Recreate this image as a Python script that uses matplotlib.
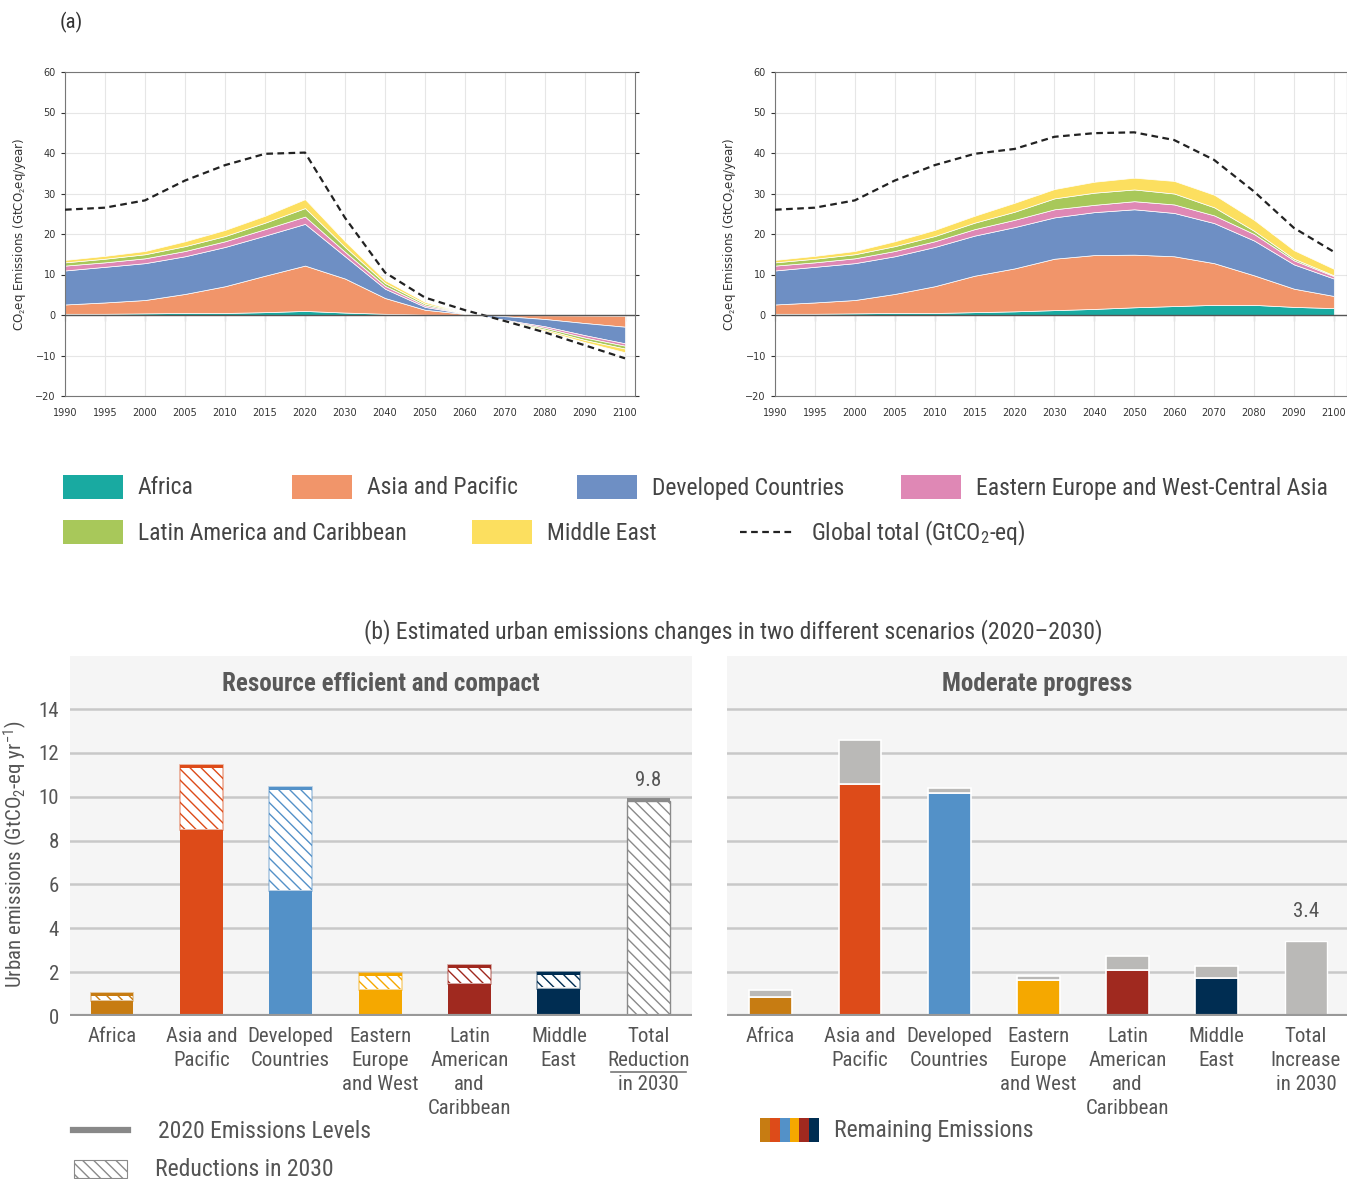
import matplotlib
matplotlib.use('Agg')
import matplotlib.pyplot as plt
from matplotlib.patches import Rectangle
from matplotlib.lines import Line2D
import numpy as np

# ---------------- data ----------------
years = ['1990', '1995', '2000', '2005', '2010', '2015', '2020', '2030',
         '2040', '2050', '2060', '2070', '2080', '2090', '2100']
regions_a = ['Africa', 'Asia and Pacific', 'Developed Countries',
             'Eastern Europe and West-Central Asia', 'Latin America and Caribbean', 'Middle East']

# left scenario (per-region values, GtCO2-eq/yr)
l_africa = [0.3, 0.3, 0.4, 0.5, 0.5, 0.7, 1.0, 0.6, 0.3, 0.1, 0.05, -0.05, -0.1, -0.15, -0.2]
l_asia = [2.3, 2.8, 3.3, 4.7, 6.6, 9.0, 11.2, 8.4, 3.9, 1.2, 0.2, -0.25, -0.9, -1.85, -2.7]
l_dev = [8.4, 8.8, 9.1, 9.3, 9.7, 9.9, 10.3, 5.5, 2.3, 0.7, 0.1, -0.9, -1.8, -3.0, -4.1]
l_eewca = [1.2, 1.1, 1.2, 1.3, 1.4, 1.6, 1.8, 1.1, 0.7, 0.4, 0.05, -0.15, -0.4, -0.6, -0.6]
l_lac = [0.8, 0.9, 1.0, 1.2, 1.3, 1.6, 2.1, 1.2, 0.7, 0.4, 0.05, -0.1, -0.4, -0.6, -0.7]
l_me = [0.6, 0.7, 0.8, 1.2, 1.5, 1.7, 2.2, 1.4, 0.7, 0.4, 0.05, -0.1, -0.3, -0.5, -0.9]
l_global = [26.0, 26.5, 28.3, 33.2, 37.0, 39.8, 40.1, 24.0, 10.5, 4.3, 1.2, -1.5, -4.3, -7.5, -10.7]

# right scenario
r_africa = [0.3, 0.3, 0.4, 0.5, 0.5, 0.7, 0.9, 1.2, 1.5, 1.9, 2.2, 2.5, 2.5, 2.0, 1.7]
r_asia = [2.3, 2.8, 3.3, 4.7, 6.6, 9.0, 10.6, 12.7, 13.3, 13.0, 12.3, 10.3, 7.3, 4.5, 3.0]
r_dev = [8.4, 8.8, 9.1, 9.3, 9.7, 9.9, 10.2, 10.2, 10.6, 11.2, 10.7, 9.9, 8.6, 6.0, 4.3]
r_eewca = [1.2, 1.1, 1.2, 1.3, 1.4, 1.6, 1.8, 2.0, 1.8, 2.0, 2.1, 1.9, 1.6, 1.0, 0.6]
r_lac = [0.8, 0.9, 1.0, 1.2, 1.3, 1.6, 2.0, 2.7, 3.0, 2.9, 2.7, 2.0, 0.8, 0.4, 0.2]
r_me = [0.6, 0.7, 0.8, 1.2, 1.5, 1.7, 2.2, 2.3, 2.7, 2.9, 3.1, 3.1, 2.7, 2.1, 1.6]
r_global = [26.0, 26.5, 28.3, 33.2, 37.0, 39.8, 41.0, 44.0, 44.9, 45.1, 43.2, 38.3, 30.5, 21.5, 15.6]

# panel (b)
cats_left = ['Africa', 'Asia and\nPacific', 'Developed\nCountries', 'Eastern\nEurope\nand West',
             'Latin\nAmerican\nand\nCaribbean', 'Middle\nEast', 'Total\nReduction\nin 2030']
cats_right = ['Africa', 'Asia and\nPacific', 'Developed\nCountries', 'Eastern\nEurope\nand West',
              'Latin\nAmerican\nand\nCaribbean', 'Middle\nEast', 'Total\nIncrease\nin 2030']
rec_level2020 = [1.05, 11.45, 10.45, 1.97, 2.33, 2.0]
rec_remaining = [0.7, 8.5, 5.7, 1.2, 1.45, 1.25]
rec_total_reduction = 9.8
mod_level2020 = [0.85, 10.6, 10.15, 1.65, 2.1, 1.75]
mod_increase = [0.35, 2.0, 0.23, 0.18, 0.64, 0.51]
mod_total_increase = 3.4
yticks_b = [0, 2, 4, 6, 8, 10, 12, 14]

# ---------------- style ----------------
W, H = 1347, 1179
COND = ['Roboto Condensed', 'Asap Condensed', 'Archivo Narrow', 'DejaVu Sans']
plt.rcParams['font.family'] = COND
plt.rcParams['mathtext.fontset'] = 'custom'
plt.rcParams['mathtext.rm'] = 'Roboto Condensed'
plt.rcParams['mathtext.it'] = 'Roboto Condensed'
plt.rcParams['hatch.linewidth'] = 1.0

cols_a = ['#19aaa1', '#f1956a', '#6e8fc4', '#df88b5', '#a8c85a', '#fcdf5f']
cols_b = ['#c77c12', '#dd4b19', '#5391c8', '#f5a800', '#a0291f', '#002d52']
grey_b = '#bab9b7'
TXT = '#555555'

fig = plt.figure(figsize=(W / 100, H / 100), dpi=100)


def rect(x0, y0, x1, y1):
    return [x0 / W, 1 - y1 / H, (x1 - x0) / W, (y1 - y0) / H]


def top_panel(r, series, glob, xmax):
    ax = fig.add_axes(r)
    x = np.arange(len(years))
    ax.stackplot(x, *series, colors=cols_a, edgecolor='white', linewidth=0.5, zorder=2)
    ax.plot(x, glob, color='#222222', linestyle=(0, (3, 2)), lw=1.6, zorder=3)
    ax.set_xlim(0, xmax)
    ax.set_ylim(-20, 60)
    ax.set_yticks(range(-20, 61, 10))
    ax.set_xticks(x)
    ax.set_xticklabels(years, family=['DejaVu Sans'])
    for t in ax.get_yticklabels():
        t.set_family(['DejaVu Sans'])
    ax.tick_params(labelsize=7, colors='#333333', length=3, width=0.8, right=True, labelright=False)
    ax.tick_params(axis='x', length=0, pad=9)
    ax.grid(True, color='#e6e6e6', lw=0.8, zorder=0)
    for s in ax.spines.values():
        s.set_color('#777777')
        s.set_linewidth(0.8)
    ax.axhline(0, color='#555555', lw=1.0, zorder=4)
    sec = ax.secondary_xaxis(0.25)
    sec.set_xticks(x)
    sec.set_xticklabels([])
    sec.tick_params(length=4, width=0.8, color='#555555', direction='out')
    sec.spines['bottom'].set_visible(False)
    ax.set_ylabel('CO$_{2}$eq Emissions (GtCO$_{2}$eq/year)', fontsize=8.5,
                  color='#333333', family=['DejaVu Sans'])
    ax.yaxis.set_label_coords(-37 / (r[2] * W), 0.5)
    return ax


axl = top_panel(rect(65, 72, 635, 396), [l_africa, l_asia, l_dev, l_eewca, l_lac, l_me], l_global, 14.25)
axr = top_panel(rect(775, 72, 1347, 396), [r_africa, r_asia, r_dev, r_eewca, r_lac, r_me], r_global, 14.33)

# overlay axes in pixel coordinates
ov = fig.add_axes([0, 0, 1, 1], zorder=10)
ov.set_xlim(0, W)
ov.set_ylim(H, 0)
ov.axis('off')
ov.patch.set_alpha(0)

ov.text(60, 22, '(a)', fontsize=15, color='#333333', va='center', ha='left')

# top legend
leg_items = [(63, 487, 0), (292, 487, 1), (577, 487, 2), (901, 487, 3), (63, 532, 4), (472, 532, 5)]
for (x0, yc, i) in leg_items:
    ov.add_patch(Rectangle((x0, yc - 12), 60, 24, facecolor=cols_a[i], edgecolor='none'))
    ov.text(x0 + 75, yc + 1, regions_a[i], fontsize=17, color='#444444', va='center', ha='left')
ov.add_line(Line2D([740, 795], [532, 532], color='#222222', lw=1.6, linestyle=(0, (3, 2))))
ov.text(811, 533, 'Global total (GtCO$_{2}$-eq)', fontsize=17, color='#444444', va='center', ha='left')

# panel b title
ov.text(733, 632, '(b) Estimated urban emissions changes in two different scenarios (2020\u20132030)',
        fontsize=17, color='#444444', va='center', ha='center')


def bottom_panel(r, xlim, cats, header):
    ax = fig.add_axes(r)
    ax.set_facecolor('#f5f5f5')
    ax.set_xlim(*xlim)
    ax.set_ylim(0, 16.42)
    for s in ax.spines.values():
        s.set_visible(False)
    for yv in yticks_b[1:]:
        ax.axhline(yv, color='#c8c8c8', lw=1.8, zorder=0)
    ax.axhline(0, color='#999999', lw=3, zorder=5)
    ax.set_xticks(range(len(cats)))
    ax.set_xticklabels(cats, fontsize=15, color=TXT, va='top', linespacing=1.33)
    ax.tick_params(axis='x', length=0, pad=8)
    ax.text(np.mean(xlim), 15.15, header, fontsize=18, fontweight='bold', color='#595959',
            ha='center', va='center')
    return ax


bw = 0.48
axb1 = bottom_panel(rect(70, 656, 692, 1016), (-0.47, 6.49), cats_left, 'Resource efficient and compact')
axb1.set_yticks(yticks_b)
axb1.set_yticklabels([str(v) for v in yticks_b], fontsize=15, color=TXT)
axb1.tick_params(axis='y', length=0, pad=8)
axb1.set_ylabel('Urban emissions (GtCO$_{2}$-eq yr$^{-1}$)', fontsize=15, color=TXT)
axb1.yaxis.set_label_coords(-41 / 622, 0.45)

strip = 0.13
for i in range(6):
    c = cols_b[i]
    rem = rec_remaining[i]
    lvl = rec_level2020[i]
    axb1.bar(i, rem, width=bw, color=c, edgecolor='none', zorder=2)
    axb1.bar(i, lvl - strip - rem - 0.05, bottom=rem + 0.05, width=bw, facecolor='white',
             edgecolor=c, hatch='\\\\\\', linewidth=0, zorder=2)
    axb1.bar(i, lvl - rem, bottom=rem, width=bw, facecolor='none', edgecolor=c, alpha=0.45,
             linewidth=1.2, zorder=3)
    axb1.bar(i, strip, bottom=lvl - strip, width=bw, color=c, edgecolor='none', zorder=3)
axb1.bar(6, rec_total_reduction, width=bw, facecolor='white', edgecolor='#8a8a8a',
         hatch='\\\\\\', linewidth=1.0, zorder=2)
axb1.bar(6, strip, bottom=rec_total_reduction, width=bw, color='#8a8a8a', edgecolor='none', zorder=3)
axb1.text(6, rec_total_reduction + 0.95, f'{rec_total_reduction:.1f}', fontsize=15, color=TXT,
          ha='center', va='center')

axb2 = bottom_panel(rect(727, 656, 1347, 1016), (-0.49, 6.46), cats_right, 'Moderate progress')
axb2.set_yticks([])
for i in range(6):
    axb2.bar(i, mod_level2020[i], width=bw, color=cols_b[i], edgecolor='white', linewidth=1.2, zorder=2)
    axb2.bar(i, mod_increase[i], bottom=mod_level2020[i], width=bw, color=grey_b, edgecolor='white',
             linewidth=1.2, zorder=2)
axb2.bar(6, mod_total_increase, width=bw, color=grey_b, edgecolor='white', linewidth=1.0, zorder=2)
axb2.text(6, mod_total_increase + 1.35, f'{mod_total_increase:.1f}', fontsize=15, color=TXT,
          ha='center', va='center')

# underline for "Reduction"
ov.add_line(Line2D([611, 686], [1072, 1072], color='#777777', lw=1.2))

# bottom legend
ov.add_line(Line2D([73, 128], [1130, 1130], color='#888888', lw=4.5))
ov.text(158, 1131, '2020 Emissions Levels', fontsize=17, color=TXT, va='center', ha='left')
ov.add_patch(Rectangle((74, 1160), 53, 18, facecolor='white', edgecolor='#8a8a8a', hatch='\\\\\\', lw=0.8))
ov.text(155, 1170, 'Reductions in 2030', fontsize=17, color=TXT, va='center', ha='left')
sw = 59 / 6
for i in range(6):
    ov.add_patch(Rectangle((760 + i * sw, 1118), sw, 24, facecolor=cols_b[i], edgecolor='none'))
ov.text(834, 1131, 'Remaining Emissions', fontsize=17, color=TXT, va='center', ha='left')

fig.savefig('out.png', dpi=100)
